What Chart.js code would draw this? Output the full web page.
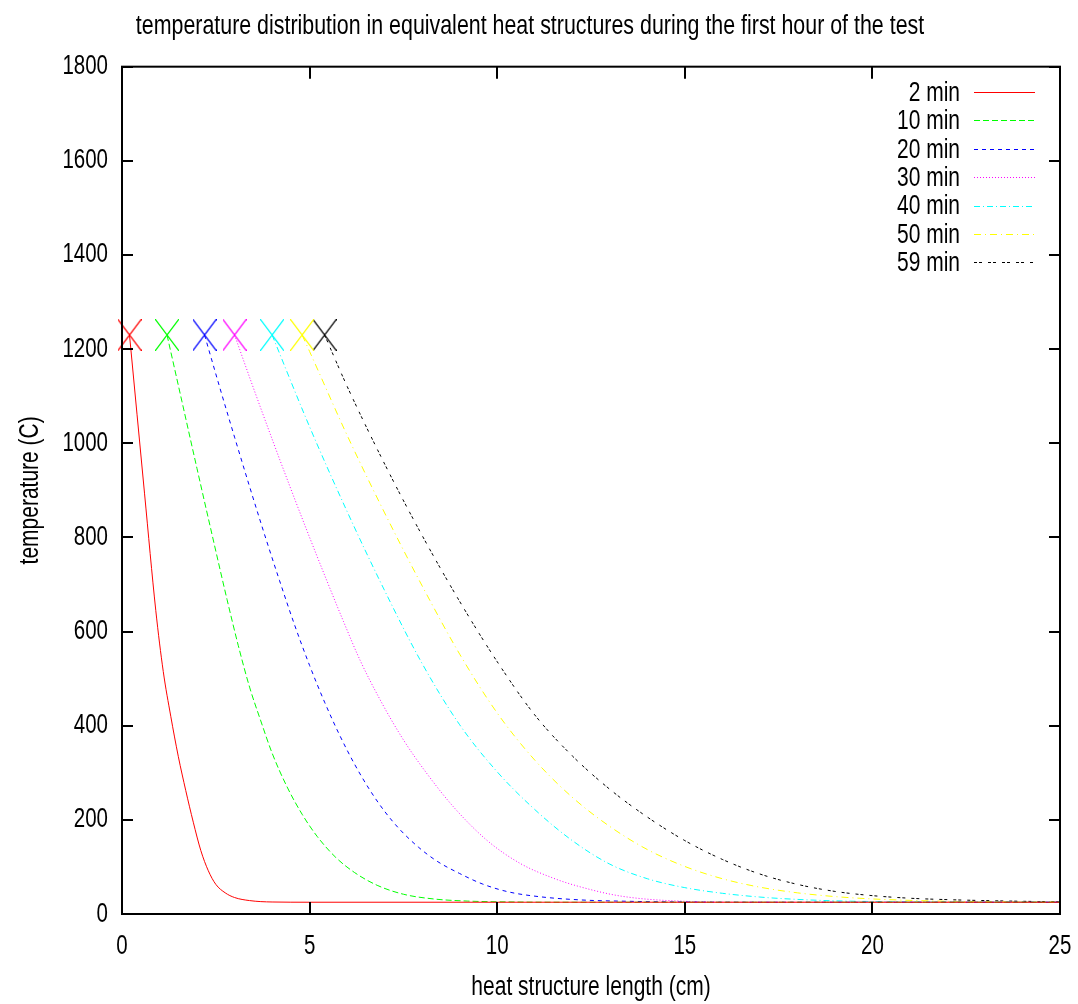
<!DOCTYPE html>
<html>
<head>
<meta charset="utf-8">
<script src="https://cdn.jsdelivr.net/npm/chart.js@4.4.1/dist/chart.umd.min.js"></script>
<style>
html, body { margin: 0; padding: 0; background: #fff; }
</style>
</head>
<body>
<canvas id="heatChart" width="1078" height="1004"></canvas>
<script>
// series: x in cm, temperature in C
var seriesLabels = ['2 min', '10 min', '20 min', '30 min', '40 min', '50 min', '59 min'];

var len2 = [0.2, 0.6, 0.9, 1.1, 1.3, 1.5, 1.7, 1.9, 2.1, 2.3, 2.5, 2.75, 3.0, 3.4, 4.0, 5, 10, 15, 20, 25];
var temp2 = [1230, 894, 645, 515, 420, 335, 262, 195, 135, 92, 63, 45, 35, 28.5, 25.5, 25, 25, 25, 25, 25];

var len10 = [1.2, 1.6, 2.0, 2.4, 2.8, 3.1, 3.4, 3.7, 4.0, 4.4, 4.8, 5.2, 5.7, 6.2, 6.8, 7.5, 8.3, 9.2, 10.5, 12, 25];
var temp10 = [1230, 1088, 946, 806, 668, 570, 482, 410, 342, 270, 212, 165, 120, 88, 61, 42, 32, 27.5, 25.5, 25, 25];

var len20 = [2.2, 2.6, 3.0, 3.4, 3.8, 4.2, 4.6, 5.0, 5.4, 5.8, 6.2, 6.6, 7.0, 7.4, 7.9, 8.4, 9.0, 9.6, 10.3, 11.1, 12.2, 13.5, 15, 17, 25];
var temp20 = [1230, 1120, 1013, 908, 806, 708, 614, 528, 450, 380, 318, 264, 218, 180, 142, 112, 86, 64, 47, 37, 30, 27, 25.5, 25, 25];

var len30 = [3.0, 3.5, 4.0, 4.5, 5.0, 5.5, 5.9, 6.34, 6.88, 7.5, 8.12, 8.83, 9.72, 10.6, 11.5, 12.2, 13.3, 15, 17, 25];
var temp30 = [1230, 1118, 1009, 903, 800, 700, 622, 540, 455, 370, 299, 228, 157, 108, 76, 58, 38, 27, 25, 25];

var len40 = [4, 5, 6, 7, 8, 9, 10, 11, 12, 13, 14, 15, 16, 17, 18, 19, 20, 21, 23, 25];
var temp40 = [1230, 1035, 855, 687, 532, 402, 302, 222, 156, 106, 75, 56, 44, 36, 31, 28, 26.5, 25.6, 25, 25];

var len50 = [4.8, 5, 6, 7, 8, 9, 10, 11, 12, 13, 14, 15, 16, 17, 18, 19, 20, 21, 22, 23, 25];
var temp50 = [1230, 1195, 1017, 852, 697, 552, 427, 327, 248, 186, 137, 101, 75, 57, 45, 37, 32, 29, 27, 26, 25];

var len59 = [5.4, 6, 7, 8, 9, 10, 11, 12, 13, 14, 15, 16, 17, 18, 19, 20, 21, 22, 23, 24, 25];
var temp59 = [1230, 1121, 956, 804, 664, 536, 423, 336, 265, 206, 156, 116, 85, 63, 48, 39, 33.5, 30.5, 28.5, 27, 26];

var lengths = [len2, len10, len20, len30, len40, len50, len59];
var temps = [temp2, temp10, temp20, temp30, temp40, temp50, temp59];

var lineColors = ['#ff0000', '#00ff00', '#0000ff', '#ff00ff', '#00ffff', '#ffff00', '#000000'];
var lineDashes = [[], [6, 3], [4, 4], [1, 2], [6, 3, 1, 3], [7, 4, 1, 4], [3, 2, 3, 6]];

var xTicks = [0, 5, 10, 15, 20, 25];
var yTicks = [0, 200, 400, 600, 800, 1000, 1200, 1400, 1600, 1800];

var FONT = "'Liberation Sans', Arial, sans-serif";

// gnuplot style X marker for the start of each curve
function crossMarker(color) {
    var c = document.createElement('canvas');
    c.width = 24;
    c.height = 32;
    var g = c.getContext('2d');
    g.strokeStyle = color;
    g.lineWidth = 1.3;
    g.beginPath();
    g.moveTo(0, 0); g.lineTo(24, 32);
    g.moveTo(24, 0); g.lineTo(0, 32);
    g.stroke();
    return c;
}

var datasets = seriesLabels.map(function(lbl, i) {
    var pts = lengths[i].map(function(x, j) { return { x: x, y: temps[i][j] }; });
    return {
        label: lbl,
        data: pts,
        borderColor: lineColors[i],
        backgroundColor: lineColors[i],
        borderWidth: 1,
        borderDash: lineDashes[i],
        cubicInterpolationMode: 'monotone',
        pointStyle: crossMarker(lineColors[i]),
        pointRadius: function(ctx) { return ctx.dataIndex === 0 ? 5 : 0; },
        pointHoverRadius: 0,
        clip: false
    };
});

// border and inward ticks like gnuplot
var framePlugin = {
    id: 'frame',
    afterDraw: function(chart) {
        var ctx = chart.ctx, a = chart.chartArea;
        var xs = chart.scales.x, ys = chart.scales.y;
        ctx.save();
        ctx.strokeStyle = '#000';
        ctx.lineWidth = 2;
        ctx.setLineDash([]);
        ctx.strokeRect(a.left, a.top, a.right - a.left, a.bottom - a.top);
        ctx.beginPath();
        xTicks.forEach(function(v) {
            var px = Math.round(xs.getPixelForValue(v));
            ctx.moveTo(px, a.bottom); ctx.lineTo(px, a.bottom - 12);
            ctx.moveTo(px, a.top); ctx.lineTo(px, a.top + 12);
        });
        yTicks.forEach(function(v) {
            var py = Math.round(ys.getPixelForValue(v));
            ctx.moveTo(a.left, py); ctx.lineTo(a.left + 11, py);
            ctx.moveTo(a.right, py); ctx.lineTo(a.right - 11, py);
        });
        ctx.stroke();
        ctx.restore();
    }
};

// key in the top right corner: text then line sample
var keyPlugin = {
    id: 'key',
    afterDraw: function(chart) {
        var ctx = chart.ctx;
        var textRight = 960, lineLeft = 974, lineRight = 1035;
        var rowTop = 92, rowStep = 28.4;
        ctx.save();
        ctx.font = '21px ' + FONT;
        ctx.textAlign = 'right';
        ctx.textBaseline = 'middle';
        chart.data.datasets.forEach(function(ds, i) {
            var y = rowTop + i * rowStep;
            ctx.fillStyle = '#000';
            ctx.fillText(ds.label, textRight, y + 1);
            ctx.strokeStyle = ds.borderColor;
            ctx.lineWidth = 1;
            ctx.setLineDash(ds.borderDash);
            ctx.beginPath();
            ctx.moveTo(lineLeft, Math.round(y) + 0.5);
            ctx.lineTo(lineRight, Math.round(y) + 0.5);
            ctx.stroke();
        });
        ctx.restore();
    }
};

Chart.defaults.font.family = FONT;
Chart.defaults.font.size = 21;
Chart.defaults.color = '#000';

var ctx = document.getElementById('heatChart').getContext('2d');

// the original font is tall and narrow: stretch glyphs vertically around their anchor
var plainFillText = ctx.fillText;
ctx.fillText = function(text, x, y, maxWidth) {
    this.save();
    this.translate(x, y);
    this.scale(1, 1.33);
    if (maxWidth === undefined) {
        plainFillText.call(this, text, 0, 0);
    } else {
        plainFillText.call(this, text, 0, 0, maxWidth);
    }
    this.restore();
};

new Chart(ctx, {
    type: 'line',
    data: { datasets: datasets },
    options: {
        responsive: false,
        animation: false,
        events: [],
        layout: { padding: { left: 0, right: 18, top: 0, bottom: 0 } },
        plugins: {
            legend: { display: false },
            tooltip: { enabled: false },
            title: {
                display: true,
                text: 'temperature distribution in equivalent heat structures during the first hour of the test',
                font: { size: 21.4, weight: 'normal', lineHeight: 1.2 },
                color: '#000',
                padding: { top: 13, bottom: 28 }
            }
        },
        scales: {
            x: {
                type: 'linear',
                min: 0,
                max: 25,
                afterFit: function(s) { s.height = 90; s.paddingLeft = 0; s.paddingRight = 0; },
                afterBuildTicks: function(s) { s.ticks = xTicks.map(function(v) { return { value: v }; }); },
                grid: { display: false, drawTicks: false },
                border: { display: false },
                ticks: {
                    padding: 20, maxRotation: 0,
                    font: { size: 20.5, lineHeight: 1.2 },
                    callback: function(v) { return String(v); }
                },
                title: {
                    display: true,
                    text: 'heat structure length (cm)',
                    font: { size: 21, lineHeight: 1.2 },
                    padding: { top: 0, bottom: 4 }
                }
            },
            y: {
                type: 'linear',
                min: 0,
                max: 1800,
                afterFit: function(s) { s.width = 122; s.paddingTop = 0; s.paddingBottom = 0; },
                afterBuildTicks: function(s) { s.ticks = yTicks.map(function(v) { return { value: v }; }); },
                grid: { display: false, drawTicks: false },
                border: { display: false },
                ticks: {
                    padding: 14,
                    font: { size: 20.5, lineHeight: 1.2 },
                    callback: function(v) { return String(v); }
                },
                title: {
                    display: true,
                    text: 'temperature (C)',
                    font: { size: 21, lineHeight: 1.2 },
                    padding: { top: 18, bottom: 0 }
                }
            }
        }
    },
    plugins: [framePlugin, keyPlugin]
});
</script>
</body>
</html>
